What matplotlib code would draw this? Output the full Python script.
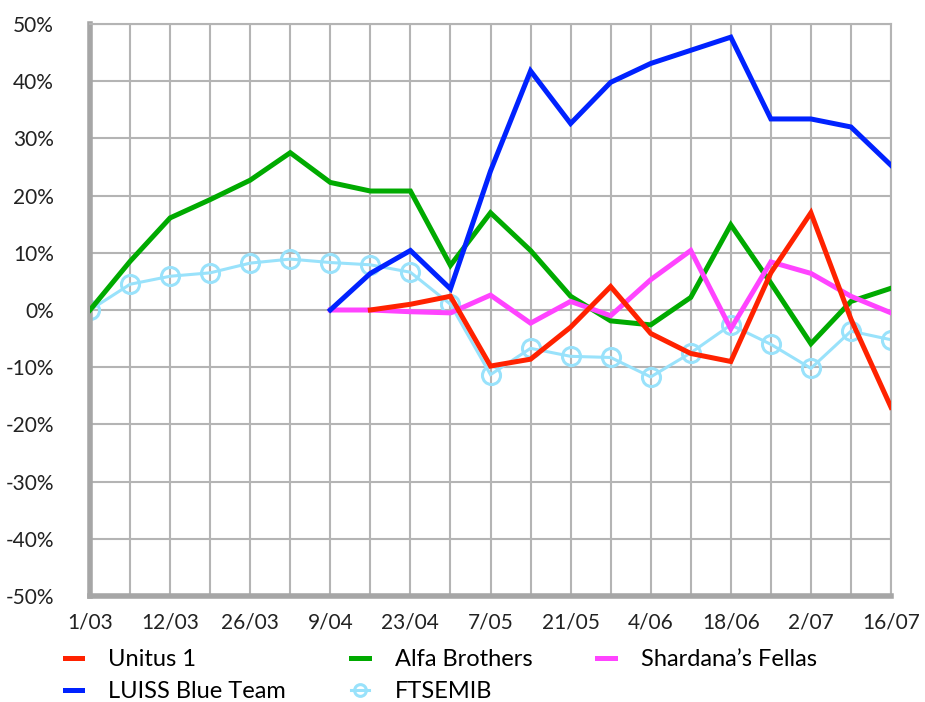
import matplotlib
matplotlib.use("Agg")
from matplotlib import pyplot as plt
import numpy as np

dates = ["1/03", "5/03", "12/03", "19/03", "26/03", "2/04", "9/04", "16/04",
         "23/04", "30/04", "7/05", "14/05", "21/05", "28/05", "4/06", "11/06",
         "18/06", "25/06", "2/07", "9/07", "16/07"]

nan = np.nan
unitus = [nan, nan, nan, nan, nan, nan, nan, 0.0, 1.0, 2.4, -9.8, -8.6, -3.0,
          4.1, -4.1, -7.6, -9.0, 6.5, 17.0, -1.6, -17.0]
alfa = [0.0, 8.5, 16.1, 19.3, 22.7, 27.5, 22.3, 20.8, 20.8, 7.8, 17.0, 10.4,
        2.4, -1.9, -2.6, 2.2, 14.9, 4.7, -5.9, 1.5, 3.8]
shardana = [nan, nan, nan, nan, nan, nan, 0.0, 0.0, -0.3, -0.5, 2.6, -2.3,
            1.5, -1.0, 5.3, 10.4, -3.3, 8.4, 6.4, 2.4, -0.5]
luiss = [nan, nan, nan, nan, nan, nan, 0.0, 6.4, 10.4, 3.7, 24.3, 41.8, 32.6,
         39.8, 43.1, 45.4, 47.7, 33.4, 33.4, 32.0, 25.3]
ftsemib = [0.0, 4.5, 5.9, 6.5, 8.2, 8.9, 8.3, 7.9, 6.6, 1.0, -11.3, -6.7,
           -8.1, -8.3, -11.7, -7.5, -2.6, -6.0, -10.2, -3.7, -5.2]

plt.rcParams['font.family'] = ['Lato', 'DejaVu Sans']
plt.rcParams['lines.solid_joinstyle'] = 'miter'

fig = plt.figure(figsize=(9.25, 7.02), dpi=100)
ax = fig.add_axes([90 / 925, 1 - 596 / 702, 801 / 925, 572 / 702])

x = np.arange(len(dates))
grid_col = "#b4b4b4"
ax.set_xticks(x, minor=True)
ax.set_xticks(x[::2])
ax.set_xticklabels(dates[::2])
ax.set_yticks(np.arange(-50, 51, 10))
ax.set_yticklabels([f"{v}%" for v in range(-50, 51, 10)])
ax.grid(True, which="both", color=grid_col, linewidth=1.5)
ax.set_axisbelow(True)
ax.set_xlim(0, len(dates) - 1)
ax.set_ylim(-50, 50)

for s in ["top", "right"]:
    ax.spines[s].set_color(grid_col)
    ax.spines[s].set_linewidth(1.5)
for s in ["left", "bottom"]:
    ax.spines[s].set_color("#a6a6a6")
    ax.spines[s].set_linewidth(4)
ax.tick_params(which="both", length=0, labelsize=15, colors="#222222")
ax.tick_params(axis="x", pad=12)
ax.tick_params(axis="y", pad=26)

h_ft, = ax.plot(x, ftsemib, color="#99e2fb", linewidth=2.2, marker="o",
                markersize=13, markerfacecolor="none", markeredgewidth=2.2,
                label="FTSEMIB", zorder=2)
h_alfa, = ax.plot(x, alfa, color="#00aa00", linewidth=3.6, label="Alfa Brothers", zorder=3)
h_sh, = ax.plot(x, shardana, color="#ff44ff", linewidth=3.6, label="Shardana’s Fellas", zorder=3)
h_lu, = ax.plot(x, luiss, color="#0022ff", linewidth=3.6, label="LUISS Blue Team", zorder=3)
h_un, = ax.plot(x, unitus, color="#ff2200", linewidth=3.6, label="Unitus 1", zorder=4)

fig.legend([h_un, h_lu, h_alfa, h_ft, h_sh],
           ["Unitus 1", "LUISS Blue Team", "Alfa Brothers", "FTSEMIB", "Shardana’s Fellas"],
           ncol=3, loc="lower left", bbox_to_anchor=(0.047, -0.03), frameon=False,
           fontsize=17, handlelength=0.75, handletextpad=1.1, columnspacing=2.75,
           labelspacing=0.45, markerscale=0.65)

fig.savefig("out.png", dpi=100)
